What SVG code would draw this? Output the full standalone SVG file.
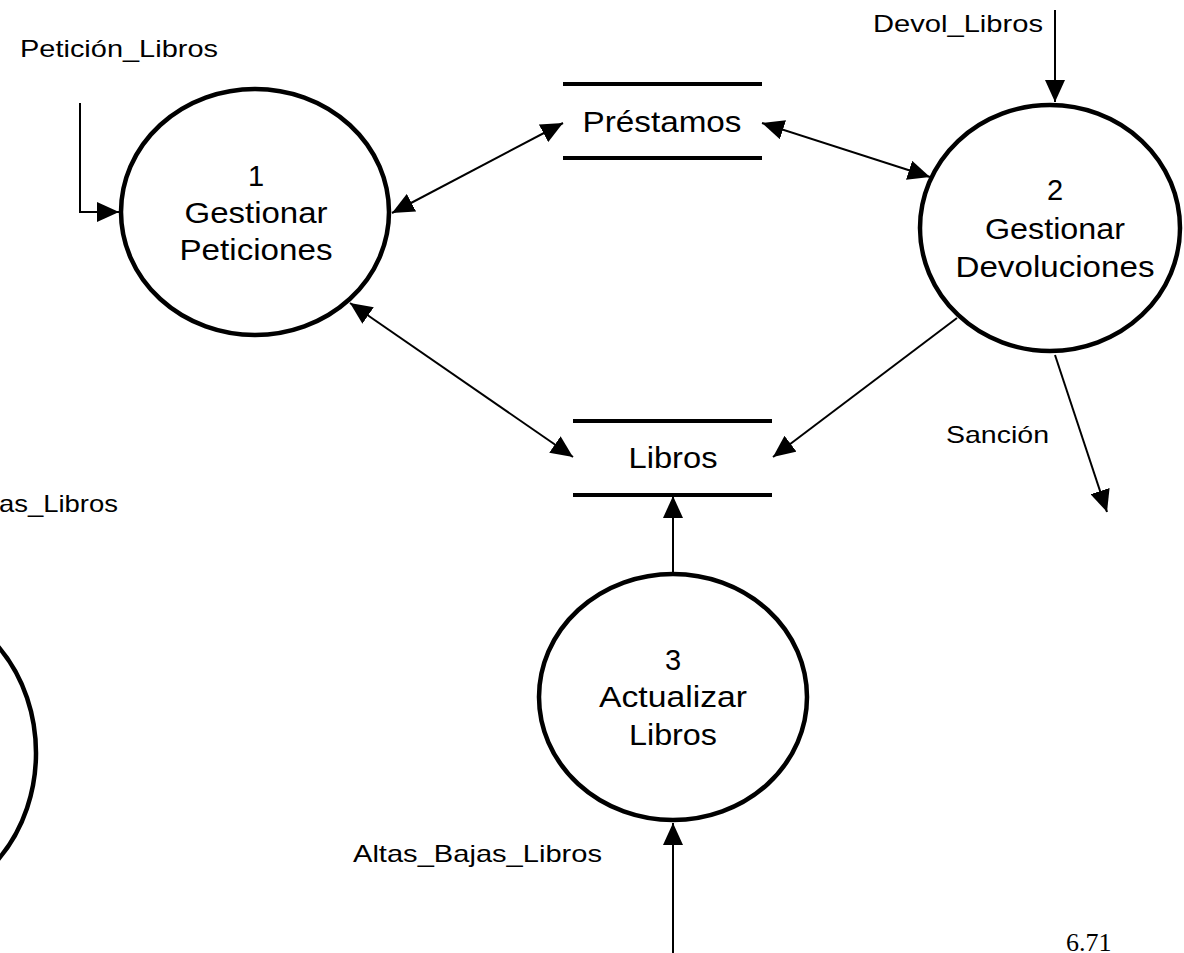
<svg xmlns="http://www.w3.org/2000/svg" width="1184" height="953" viewBox="0 0 1184 953">
  <style>
    .proc { fill: #fff; stroke: #000; stroke-width: 4.5; }
    .store { stroke: #000; stroke-width: 4; }
    .flow { fill: none; stroke: #000; stroke-width: 2; }
    .ntext { font-family: "Liberation Sans", Arial, sans-serif; font-size: 29px; fill: #000; text-anchor: middle; }
    .ltext { font-family: "Liberation Sans", Arial, sans-serif; font-size: 24px; fill: #000; }
  </style>
  <defs>
    <marker id="arrow" viewBox="0 0 22 20" markerWidth="22" markerHeight="20" refX="22" refY="10" orient="auto-start-reverse" markerUnits="userSpaceOnUse">
      <path d="M0,0 L22,10 L0,20 Z" fill="#000"/>
    </marker>
  </defs>
  <rect width="1184" height="953" fill="#fff"/>

  <!-- data flows -->
  <g id="connectors">
    <path class="flow" d="M80,103 V212 H119" marker-end="url(#arrow)"/>
    <path class="flow" d="M392,213 L563,123" marker-start="url(#arrow)" marker-end="url(#arrow)"/>
    <path class="flow" d="M762,123 L930,177" marker-start="url(#arrow)" marker-end="url(#arrow)"/>
    <path class="flow" d="M350,303 L573,457" marker-start="url(#arrow)" marker-end="url(#arrow)"/>
    <path class="flow" d="M957,318 L773,457" marker-end="url(#arrow)"/>
    <path class="flow" d="M1055,355 L1107,512" marker-end="url(#arrow)"/>
    <path class="flow" d="M1055,10 V102" marker-end="url(#arrow)"/>
    <path class="flow" d="M673,572 V496" marker-end="url(#arrow)"/>
    <path class="flow" d="M673,953 V823" marker-end="url(#arrow)"/>
  </g>

  <!-- flow labels -->
  <g id="labels">
    <text class="ltext" x="20" y="57" textLength="198" lengthAdjust="spacingAndGlyphs">Petición_Libros</text>
    <text class="ltext" x="873" y="32" textLength="170" lengthAdjust="spacingAndGlyphs">Devol_Libros</text>
    <text class="ltext" x="946" y="443" textLength="103" lengthAdjust="spacingAndGlyphs">Sanción</text>
    <text class="ltext" x="-1" y="512" textLength="119" lengthAdjust="spacingAndGlyphs">as_Libros</text>
    <text class="ltext" x="353" y="862" textLength="249" lengthAdjust="spacingAndGlyphs">Altas_Bajas_Libros</text>
  </g>

  <!-- process 1 -->
  <g id="p1">
    <ellipse class="proc" cx="255" cy="212" rx="134" ry="123"/>
    <text class="ntext" x="256" y="186">1</text>
    <text class="ntext" x="256" y="223" textLength="143" lengthAdjust="spacingAndGlyphs">Gestionar</text>
    <text class="ntext" x="256" y="260" textLength="153" lengthAdjust="spacingAndGlyphs">Peticiones</text>
  </g>

  <!-- process 2 -->
  <g id="p2">
    <ellipse class="proc" cx="1050" cy="228" rx="130" ry="123"/>
    <text class="ntext" x="1055" y="200">2</text>
    <text class="ntext" x="1055" y="239" textLength="140" lengthAdjust="spacingAndGlyphs">Gestionar</text>
    <text class="ntext" x="1055" y="277" textLength="199" lengthAdjust="spacingAndGlyphs">Devoluciones</text>
  </g>

  <!-- process 3 -->
  <g id="p3">
    <ellipse class="proc" cx="673" cy="697" rx="134" ry="123"/>
    <text class="ntext" x="673" y="670">3</text>
    <text class="ntext" x="673" y="707" textLength="148" lengthAdjust="spacingAndGlyphs">Actualizar</text>
    <text class="ntext" x="673" y="745" textLength="88" lengthAdjust="spacingAndGlyphs">Libros</text>
  </g>

  <!-- process partly outside the sheet -->
  <g id="p4">
    <ellipse class="proc" cx="-92" cy="753" rx="128" ry="150"/>
  </g>

  <!-- data store: Préstamos -->
  <g id="s1">
    <line class="store" x1="563" y1="84" x2="762" y2="84"/>
    <line class="store" x1="563" y1="158" x2="762" y2="158"/>
    <text class="ntext" x="662" y="132" textLength="159" lengthAdjust="spacingAndGlyphs">Préstamos</text>
  </g>

  <!-- data store: Libros -->
  <g id="s2">
    <line class="store" x1="573" y1="421" x2="772" y2="421"/>
    <line class="store" x1="573" y1="495" x2="772" y2="495"/>
    <text class="ntext" x="673" y="468" textLength="89" lengthAdjust="spacingAndGlyphs">Libros</text>
  </g>

  <!-- page number -->
  <text x="1066" y="951" font-family="'Liberation Serif', 'Times New Roman', serif" font-size="26" fill="#000">6.71</text>
</svg>
